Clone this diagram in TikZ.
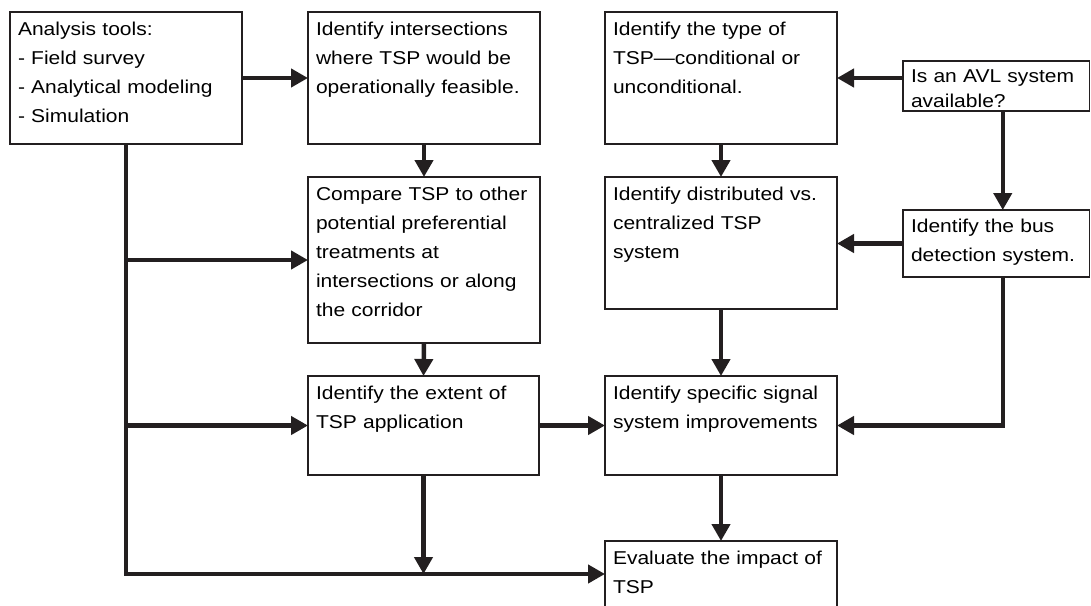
\documentclass[tikz,border=0pt]{standalone}
\usepackage{fontspec}
\setmainfont[FakeStretch=1.13]{Liberation Sans}
\usetikzlibrary{arrows.meta}
\definecolor{ink}{HTML}{231F20}
\begin{document}
\begin{tikzpicture}[x=1pt,y=-1pt,
  box/.style={draw=ink, line width=1.5pt, anchor=north west, inner xsep=8pt, inner ysep=0pt,
    outer sep=0pt, align=left, font=\fontsize{18.6}{29}\selectfont, text height=23.5pt},
  conn/.style={draw=ink, line width=4.5pt},
  arr/.style={conn, -{Triangle[length=17pt,width=18pt]}},
]
\useasboundingbox (0,0) rectangle (1091,605);
\clip (0,0) rectangle (1091,605);

\node[box, text width=216pt, text depth=108.5pt] (tools) at (10,12)
  {Analysis tools:\\- Field survey\\- Analytical modeling\\- Simulation};
\node[box, text width=216pt, text depth=108.5pt] (inter) at (308,12)
  {Identify intersections\\where TSP would be\\operationally feasible.};
\node[box, text width=216pt, text depth=142.5pt] (compare) at (308,177)
  {Compare TSP to other\\potential preferential\\treatments at\\intersections or along\\the corridor};
\node[box, text width=215pt, text depth=75.5pt] (extent) at (308,376)
  {Identify the extent of\\TSP application};
\node[box, text width=216pt, text depth=42.5pt] (eval) at (605,541)
  {Evaluate the impact of\\TSP};
\node[box, text width=216pt, text depth=108.5pt] (type) at (605,12)
  {Identify the type of\\TSP—conditional or\\unconditional.};
\node[box, text width=216pt, text depth=108.5pt] (dist) at (605,177)
  {Identify distributed vs.\\centralized TSP\\system};
\node[box, text width=216pt, text depth=75.5pt] (signal) at (605,376)
  {Identify specific signal\\system improvements};
\node[box, text width=170.5pt, text height=21pt, text depth=29pt,
  font=\fontsize{18.6}{25}\selectfont] (avl) at (903,61)
  {Is an AVL system\\available?};
\node[box, text width=170.5pt, text height=22.5pt, text depth=44.5pt] (bus) at (903,210)
  {Identify the bus\\detection system.};

% left trunk and branches
\draw[arr] (tools.south) |- (eval.west);
\draw[arr] (tools.south |- compare.west) -- (compare.west);
\draw[arr] (tools.south |- extent.west) -- (extent.west);
\draw[arr] (tools.east) -- (inter.west);
\draw[arr] (inter.south) -- (compare.north);
\draw[arr] (compare.south) -- (extent.north);
\draw[arr] (extent.east) -- (signal.west);
\coordinate (join) at (extent.south |- eval.west);
\draw[arr] (extent.south) -- (join);
% middle column
\draw[arr] (type.south) -- (dist.north);
\draw[arr] (dist.south) -- (signal.north);
\draw[arr] (signal.south) -- (eval.north);
% right column
\draw[arr] (avl.west |- type.east) -- (type.east);
\coordinate (avlout) at ([xshift=6.5pt]avl.south);
\draw[arr] (avlout) -- (avlout |- bus.north);
\draw[arr] (bus.west) -- (bus.west -| dist.east);
\draw[arr] (avlout |- bus.south) |- (signal.east);
\end{tikzpicture}
\end{document}
